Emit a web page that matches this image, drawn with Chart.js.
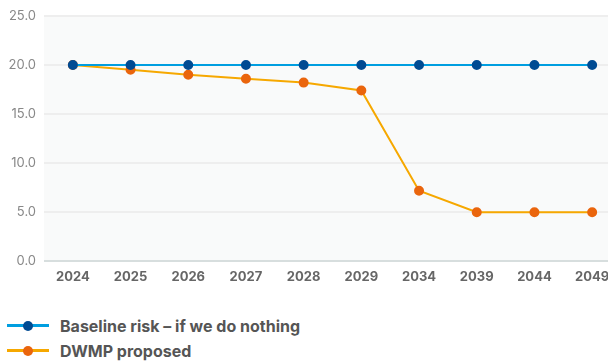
<!DOCTYPE html>
<html>
<head>
<meta charset="utf-8">
<script src="https://cdn.jsdelivr.net/npm/chart.js@4.4.1/dist/chart.umd.min.js"></script>
<style>
  body { margin: 0; background: #fff; overflow: hidden; font-family: Inter, sans-serif; }
  .wrap { width: 627px; height: 285px; }
  .legend { margin: 28px 0 0 7px; }
  .item { display: flex; align-items: center; height: 25px; font-weight: 700; font-size: 16px; color: #555; }
  .swatch { position: relative; width: 42px; height: 3px; margin-right: 11px; }
  .swatch i { position: absolute; left: 16px; top: -3.5px; width: 10px; height: 10px; border-radius: 50%; }
</style>
</head>
<body>
<div class="wrap"><canvas id="riskChart"></canvas></div>
<div class="legend" id="legend"></div>
<script>
// anos e valores de risco
const years = ['2024', '2025', '2026', '2027', '2028', '2029', '2034', '2039', '2044', '2049'];
const baseline = [20, 20, 20, 20, 20, 20, 20, 20, 20, 20];
const proposed = [20, 19.5, 19.0, 18.6, 18.2, 17.4, 7.2, 5, 5, 5];
const yTicks = [0, 5, 10, 15, 20, 25];

const series = [
  { label: 'Baseline risk \u2013 if we do nothing', data: baseline, line: '#009ee0', dot: '#004b93' },
  { label: 'DWMP proposed', data: proposed, line: '#f6a800', dot: '#ea650d' }
];

// fundo da area do grafico
const areaBg = {
  id: 'areaBg',
  beforeDraw(chart) {
    const a = chart.chartArea;
    const c = chart.ctx;
    c.save();
    c.fillStyle = '#f9fafa';
    c.fillRect(a.left, a.top, a.right - a.left, a.bottom - a.top);
    c.restore();
  }
};

const ctx = document.getElementById('riskChart');

new Chart(ctx, {
  type: 'line',
  data: {
    labels: years,
    datasets: series.map(s => ({
      label: s.label,
      data: s.data,
      borderColor: s.line,
      backgroundColor: s.dot,
      pointBackgroundColor: s.dot,
      pointBorderColor: s.dot,
      pointRadius: 4,
      borderWidth: 2,
      tension: 0
    }))
  },
  options: {
    responsive: true,
    maintainAspectRatio: false,
    animation: false,
    layout: { padding: { top: 8, right: 0, left: 0, bottom: 0 } },
    plugins: { legend: { display: false }, tooltip: { enabled: false } },
    scales: {
      x: {
        offset: true,
        grid: { display: false },
        border: { display: false },
        ticks: { color: '#666', font: { family: 'Inter', size: 13, weight: '700' }, padding: 0 }
      },
      y: {
        min: 0,
        max: 25,
        afterFit(axis) { axis.width = 44; },
        afterBuildTicks(axis) { axis.ticks = yTicks.map(v => ({ value: v })); },
        border: { display: false },
        grid: {
          color: c => c.tick && c.tick.value === 0 ? '#d7dede' : '#eeeeee',
          lineWidth: 2,
          drawTicks: false
        },
        ticks: {
          color: '#888',
          font: { family: 'Inter', size: 13 },
          padding: 8,
          callback: v => v.toFixed(1)
        }
      }
    }
  },
  plugins: [areaBg]
});

// legenda em html
const legend = document.getElementById('legend');
series.forEach(s => {
  const row = document.createElement('div');
  row.className = 'item';
  row.innerHTML = '<span class="swatch" style="background:' + s.line + '"><i style="background:' + s.dot + '"></i></span>' + s.label;
  legend.appendChild(row);
});
</script>
</body>
</html>
